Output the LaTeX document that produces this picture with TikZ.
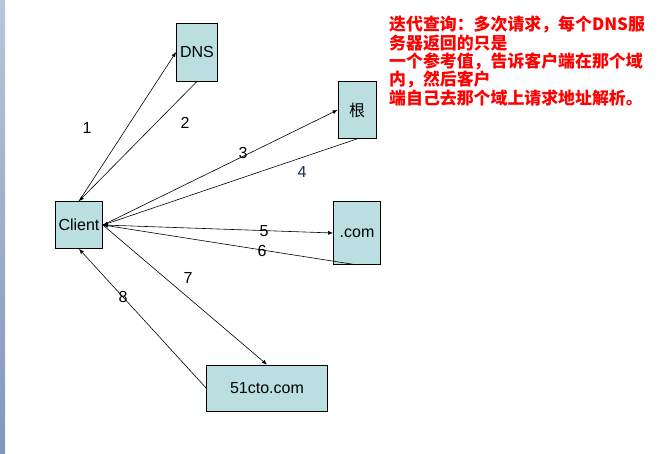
\documentclass[tikz,border=0pt]{standalone}
\usepackage{fontspec}
\setmainfont{Liberation Sans}
\newfontfamily\cjk{Noto Sans CJK SC}
\usetikzlibrary{arrows.meta}
\usetikzlibrary{positioning}
\definecolor{boxfill}{HTML}{BBDFE1}
\definecolor{notered}{HTML}{FF0000}
\definecolor{stepblue}{HTML}{1A2A55}
\definecolor{edgetop}{HTML}{B8C6DA}
\definecolor{edgebot}{HTML}{8497B8}
\tikzset{>={Latex[length=5pt,width=4pt]}}
\tikzset{
    server/.style = {draw, fill=boxfill, line width=0.8pt, inner sep=0pt, font=\fontsize{16}{18}\selectfont},
    stepno/.style = {inner sep=0pt, font=\fontsize{16}{18}\selectfont},
    query/.style = {->, line width=0.6pt},
}

\begin{document}
\begin{tikzpicture}[x=1pt,y=-1pt]
    \useasboundingbox (0,0) rectangle (669,454);
    \shade[top color=edgetop, bottom color=edgebot] (0,0) rectangle (5,454);
    % servers
    \node(client)[server, minimum width=47pt, minimum height=47pt] at (79,225){Client};
    \node(dns)[server, minimum width=41pt, minimum height=58pt] at (197,52){DNS};
    \node(root)[server, minimum width=38pt, minimum height=57pt] at (357,110){\cjk 根};
    \node(com)[server, minimum width=47pt, minimum height=63pt] at (357,233){.com};
    \node(cto)[server, minimum width=121pt, minimum height=46pt] at (267,388){51cto.com};
    % queries
    \draw[query] (client.north) -- (dns.west);
    \draw[query] (dns.south) -- (client.north);
    \draw[query] (client.east) -- (root.west);
    \draw[query] (root.south) -- (client.east);
    \draw[query] (client.east) -- (com.west);
    \draw[query] (com.south) -- (client.east);
    \draw[query] (client.east) -- (cto.north);
    \draw[query] (cto.west) -- (client.south);
    % step numbers
    \node(s1)[stepno] at (87,128){1};
    \node(s2)[stepno] at (185,123){2};
    \node(s3)[stepno] at (243,153){3};
    \node(s4)[stepno, text=stepblue] at (302,172){4};
    \node(s5)[stepno] at (264,231){5};
    \node(s6)[stepno] at (262,251){6};
    \node(s7)[stepno] at (188,278){7};
    \node(s8)[stepno] at (123,297){8};
    % note
    \node(note)[anchor=north west, align=left, inner sep=0pt, text=notered,
        font=\cjk\bfseries\fontsize{16.9}{18.4}\selectfont] at (389,16)
        {迭代查询：多次请求，每个DNS服\\务器返回的只是\\一个参考值，告诉客户端在那个域\\内，然后客户\\端自己去那个域上请求地址解析。};
\end{tikzpicture}
\end{document}
